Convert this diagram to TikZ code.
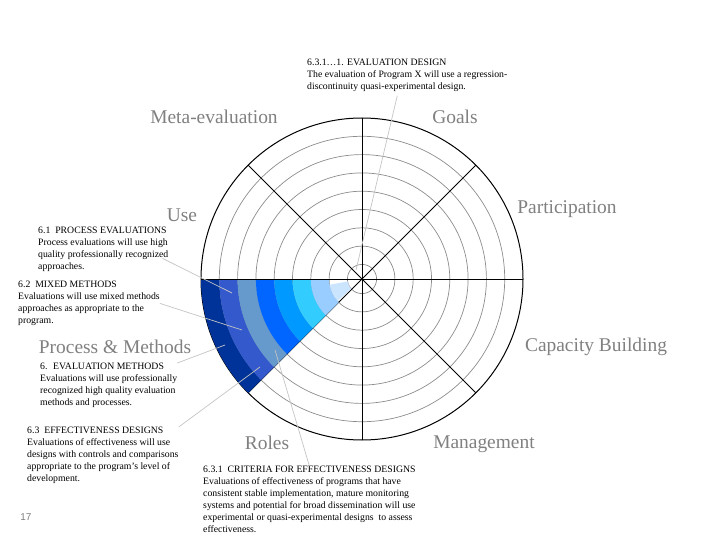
\documentclass[tikz,border=0pt]{standalone}
\usepackage{fontspec}
\setmainfont{Liberation Serif}
\newfontfamily\pagefont{Liberation Sans}
\usepackage{tikz}
\usetikzlibrary{calc}
\definecolor{WheelGray}{HTML}{808080}
\definecolor{RingGray}{HTML}{8C8C8C}
\definecolor{LeadGray}{HTML}{C4C4C4}
\definecolor{BandNavy}{HTML}{003399}
\definecolor{BandRoyal}{HTML}{3359CC}
\definecolor{BandSteel}{HTML}{6699CC}
\definecolor{BandBright}{HTML}{0066FF}
\definecolor{BandAzure}{HTML}{0099FF}
\definecolor{BandCyan}{HTML}{33CCFF}
\definecolor{BandLight}{HTML}{99CCFF}
\definecolor{BandPale}{HTML}{CCE5FF}

\begin{document}
\begin{tikzpicture}[x=1bp,y=-1bp,
  note/.style={anchor=north west,inner sep=0pt,align=left,font=\fontsize{9.8}{12}\selectfont},
  part/.style={text=WheelGray,inner sep=0pt,font=\fontsize{19.5}{22}\selectfont},
  lead/.style={draw=LeadGray,line width=.7bp},
  ring/.style={draw=RingGray,line width=.7bp},
  spoke/.style={draw=black,line width=1bp}]
\useasboundingbox (0,0) rectangle (720,540);
\coordinate (c) at (362,279);
\foreach \r in {14.6,32.9,51.2,69.5,87.8,106.1,124.4,142.7} \draw[ring] (c) circle (\r);
\foreach \a in {0,45,...,315} \draw[spoke] (c) -- ++(\a:161);
\draw[spoke] (c) circle (161);
\foreach \ri/\ro/\col in {142.7/161/BandNavy,124.4/142.7/BandRoyal,106.1/124.4/BandSteel,87.8/106.1/BandBright,69.5/87.8/BandAzure,51.2/69.5/BandCyan,32.9/51.2/BandLight}
  \fill[\col] ($(c)+(180:\ro)$) arc (180:135:\ro) -- ($(c)+(135:\ri)$) arc (135:180:\ri) -- cycle;
\fill[BandPale] ($(c)+(170:32.9)$) arc (170:138:32.9) -- ($(c)+(138:14.6)$) arc (138:170:14.6) -- cycle;
\draw[spoke] (c) -- ++(180:161);

\node[part] (meta) at (214,117) {Meta-evaluation};
\node[part] (goals) at (455,117) {Goals};
\node[part] (use) at (182,215) {Use};
\node[part] (partic) at (567,209) {Participation};
\node[part] (procm) at (115,347) {Process \& Methods};
\node[part] (capac) at (596,347) {Capacity Building};
\node[part] (roles) at (267,443) {Roles};
\node[part] (manag) at (484,444) {Management};
\node[text=WheelGray,font=\pagefont\fontsize{10}{12}\selectfont] (pgno) at (26,517) {17};

\node[note] (n6311) at (307,59) {6.3.1\dots1. EVALUATION DESIGN\\The evaluation of Program X will use a regression-\\discontinuity quasi-experimental design.};
\node[note] (n61) at (38,227) {6.1~ PROCESS EVALUATIONS\\Process evaluations will use high\\quality professionally recognized\\approaches.};
\node[note] (n62) at (18,281) {6.2~ MIXED METHODS\\Evaluations will use mixed methods\\approaches as appropriate to the\\program.};
\node[note] (n6) at (40,363) {6.~ EVALUATION METHODS\\Evaluations will use professionally\\recognized high quality evaluation\\methods and processes.};
\node[note] (n63) at (27,427) {6.3~ EFFECTIVENESS DESIGNS\\Evaluations of effectiveness will use\\designs with controls and comparisons\\appropriate to the program’s level of\\development.};
\node[note] (n631) at (203,466) {6.3.1~ CRITERIA FOR EFFECTIVENESS DESIGNS\\Evaluations of effectiveness of programs that have\\consistent stable implementation, mature monitoring\\systems and potential for broad dissemination will use\\experimental or quasi-experimental designs~ to assess\\effectiveness.};

\coordinate (e6311) at (356,270);
\coordinate (e61) at (232,293);
\coordinate (e62) at (242,330);
\coordinate (e6) at (225,345);
\coordinate (e63) at (260,367);
\coordinate (e631) at (275,350);
\draw[lead] ($(n6311.south)+(-10,4)$) -- (e6311);
\draw[lead] ($(n61.east)+(-6,9)$) -- (e61);
\draw[lead] (n62.east) -- (e62);
\draw[lead] (n6.north east) -- (e6);
\draw[lead] (n63.north east) -- (e63);
\draw[lead] (n631.north) -- (e631);
\end{tikzpicture}
\end{document}
